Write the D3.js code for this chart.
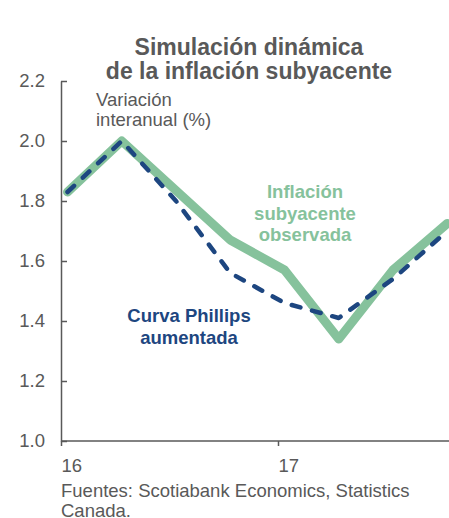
<!DOCTYPE html>
<html><head><meta charset="utf-8">
<script src="https://cdn.jsdelivr.net/npm/d3@7"></script>
<style>body{margin:0;background:#fff}svg{display:block}text{font-family:"Liberation Sans",Arial,sans-serif}</style>
</head><body>
<svg id="c" width="449" height="518"></svg>
<script>
const quarters = [16.03, 16.28, 16.53, 16.78, 17.03, 17.28, 17.53, 17.78];
const observed = [1.83, 2.00, 1.835, 1.67, 1.57, 1.34, 1.57, 1.725];
const phillips = [1.83, 2.00, 1.80, 1.56, 1.46, 1.41, 1.54, 1.70];
const yTicks = [1.0, 1.2, 1.4, 1.6, 1.8, 2.0, 2.2];
const xTicks = [16, 17];
const titleLines = ["Simulación dinámica", "de la inflación subyacente"];
const unitLines = ["Variación", "interanual (%)"];
const obsLabel = ["Inflación", "subyacente", "observada"];
const phLabel = ["Curva Phillips", "aumentada"];
const sourceLines = ["Fuentes: Scotiabank Economics, Statistics", "Canada."];

const svg = d3.select("#c");
const gray = "#595959", green = "#86c29c", blue = "#1d4680";
const FF = "Liberation Sans, Arial, sans-serif";
const x = d3.scaleLinear().domain([16, 17]).range([61, 278]);
const y = d3.scaleLinear().domain([1.0, 2.2]).range([441, 81]);

// title
svg.append("g").selectAll("text").data(titleLines).join("text")
  .attr("x", 249).attr("y", (d,i)=>55+i*23.5).attr("text-anchor","middle")
  .attr("font-size",23).attr("font-weight","bold").attr("fill",gray).text(d=>d);

// y axis
const yAxis = d3.axisRight(y).tickValues(yTicks).tickFormat(d3.format(".1f")).tickSize(6).tickSizeOuter(0);
const gy = svg.append("g").attr("transform","translate(61,0)").call(yAxis);
gy.select(".domain").attr("stroke",gray).attr("stroke-width",1.5);
gy.selectAll(".tick line").attr("stroke",gray).attr("stroke-width",1.5);
gy.selectAll(".tick text").attr("x",-16).attr("text-anchor","end").attr("font-size",18.5)
  .attr("fill",gray).attr("font-family",FF);

// x axis
const xAxis = d3.axisBottom(x).tickValues(xTicks).tickFormat(d=>String(d)).tickSize(5).tickSizeOuter(0);
const gx = svg.append("g").attr("transform","translate(0,441)").call(xAxis);
gx.select(".domain").attr("d","M61,0H449").attr("stroke",gray).attr("stroke-width",1.5);
gx.selectAll(".tick line").attr("stroke",gray).attr("stroke-width",1.5);
gx.selectAll(".tick text").attr("text-anchor","start").attr("x",0).attr("y",31).attr("dy",null)
  .attr("font-size",18.5).attr("fill",gray).attr("font-family",FF);

const line = d3.line().x((d,i)=>x(quarters[i])).y(d=>y(d));
svg.append("path").datum(observed).attr("d",line).attr("fill","none").attr("stroke",green)
  .attr("stroke-width",9).attr("stroke-linejoin","round").attr("stroke-linecap","round");
svg.append("path").datum(phillips).attr("d",line).attr("fill","none").attr("stroke",blue)
  .attr("stroke-width",4.5).attr("stroke-dasharray","9,12").attr("stroke-linecap","round").attr("stroke-linejoin","round");

svg.append("g").selectAll("text").data(unitLines).join("text")
  .attr("x",96).attr("y",(d,i)=>106+i*20).attr("font-size",18.5).attr("fill",gray).text(d=>d);
svg.append("g").selectAll("text").data(obsLabel).join("text")
  .attr("x",305).attr("y",(d,i)=>198+i*21.5).attr("text-anchor","middle").attr("font-size",18.5)
  .attr("font-weight","bold").attr("fill",green).text(d=>d);
svg.append("g").selectAll("text").data(phLabel).join("text")
  .attr("x",189).attr("y",(d,i)=>322+i*21.5).attr("text-anchor","middle").attr("font-size",18.5)
  .attr("font-weight","bold").attr("fill",blue).text(d=>d);
svg.append("g").selectAll("text").data(sourceLines).join("text")
  .attr("x",61).attr("y",(d,i)=>497+i*20).attr("font-size",18.5).attr("fill",gray).text(d=>d);
</script>
</body></html>
